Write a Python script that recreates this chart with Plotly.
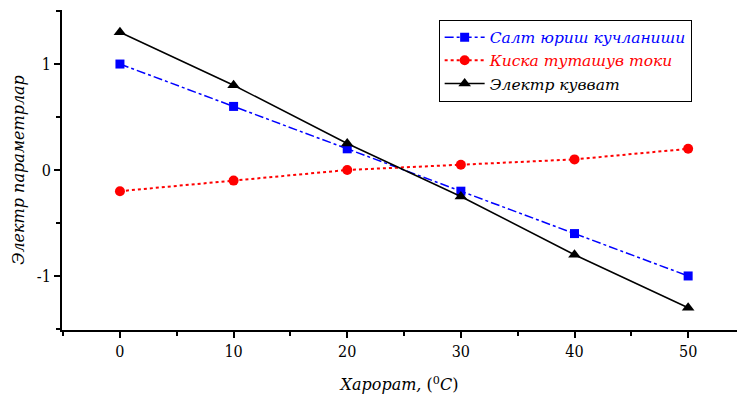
import plotly.graph_objects as go

temps = [0, 10, 20, 30, 40, 50]
salt = [1.0, 0.6, 0.2, -0.2, -0.6, -1.0]
kiska = [-0.2, -0.1, 0.0, 0.05, 0.1, 0.2]
power = [1.3, 0.8, 0.25, -0.25, -0.8, -1.3]

names = ["Салт юриш кучланиши", "Киска туташув токи", "Электр кувват"]
xticks = [0, 10, 20, 30, 40, 50]
yticks = [-1, 0, 1]
yticklabels = ["-1", "0", "1"]

SERIF = "DejaVu Serif"
COND = "DejaVu Serif Condensed"

fig = go.Figure()
fig.add_trace(go.Scatter(
    x=temps, y=salt, mode="lines+markers",
    name='<span style="color:#0000ff"><i>%s</i></span>' % names[0],
    line=dict(color="#0000ff", width=1.5, dash="dashdot"),
    marker=dict(symbol="square", size=9, color="#0000ff")))
fig.add_trace(go.Scatter(
    x=temps, y=kiska, mode="lines+markers",
    name='<span style="color:#ff0000"><i>%s</i></span>' % names[1],
    line=dict(color="#ff0000", width=2, dash="dot"),
    marker=dict(symbol="circle", size=10, color="#ff0000")))
fig.add_trace(go.Scatter(
    x=temps, y=power, mode="lines+markers",
    name='<span style="color:#000000"><i>%s</i></span>' % names[2],
    line=dict(color="#000000", width=1.5),
    marker=dict(symbol="triangle-up", size=11, color="#000000")))

fig.update_layout(
    width=737, height=399,
    margin=dict(l=62, r=0, t=10, b=69),
    paper_bgcolor="white", plot_bgcolor="white",
    font=dict(family=COND, size=16, color="black"),
    showlegend=True,
    legend=dict(x=0.558, y=0.97, xanchor="left", yanchor="top",
                bordercolor="black", borderwidth=1, bgcolor="white",
                font=dict(family=SERIF, size=15.5),
                tracegroupgap=0, itemwidth=40),
    xaxis=dict(range=[-5.1, 54.3], showgrid=False, zeroline=False,
               showline=True, linecolor="black", linewidth=2,
               ticks="outside", ticklen=6, tickwidth=2, tickcolor="black",
               tickvals=xticks,
               minor=dict(tickvals=[-5, 5, 15, 25, 35, 45], ticks="outside", ticklen=4, tickwidth=2, tickcolor="black"),
               title=dict(text="<i>Харорат,</i> (<sup>0</sup><i>C</i>)", font=dict(family=SERIF, size=16), standoff=19)),
    yaxis=dict(range=[-1.51, 1.51], showgrid=False, zeroline=False,
               showline=True, linecolor="black", linewidth=2,
               ticks="outside", ticklen=6, tickwidth=2, tickcolor="black",
               tickvals=yticks, ticktext=yticklabels,
               minor=dict(tickvals=[-1.5, -0.5, 0.5, 1.5], ticks="outside", ticklen=4, tickwidth=2, tickcolor="black"),
               title=dict(text="<i>Электр параметрлар</i>", font=dict(family=SERIF, size=16), standoff=8)),
)

fig.write_html("out.html")
